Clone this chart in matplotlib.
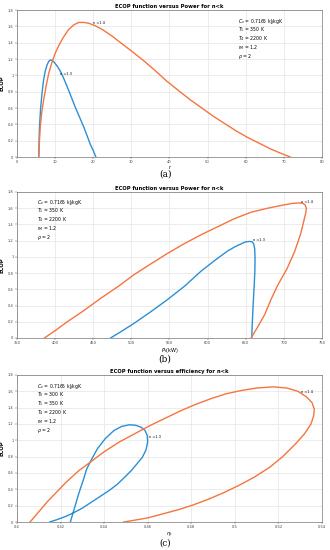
import numpy as np
import matplotlib.pyplot as plt

# (a) ECOP vs compression ratio r
r_13 = [5.7, 5.8, 5.9, 6.2, 6.6, 7.0, 7.4, 7.9, 8.3, 8.7, 9.2, 9.8, 10.6, 11.4, 12.2, 13.1, 14.2, 15.3, 16.4, 17.5, 18.4, 19.2, 20.0, 20.7]
e_13 = [0.0, 0.2, 0.37, 0.6, 0.8, 0.95, 1.05, 1.13, 1.17, 1.19, 1.185, 1.16, 1.11, 1.05, 0.97, 0.87, 0.74, 0.61, 0.49, 0.37, 0.26, 0.16, 0.08, 0.0]
r_14 = [5.7, 5.9, 6.1, 6.5, 7.0, 7.6, 8.3, 9.1, 10.0, 11.0, 12.2, 13.5, 14.9, 16.2, 17.5, 18.8, 20.5, 22.5, 25.0, 27.5, 30.0, 33.0, 36.0, 39.3, 42.5, 45.5, 48.5, 51.5, 54.5, 57.5, 60.5, 63.5, 66.5, 69.0, 71.7]
e_14 = [0.0, 0.2, 0.37, 0.55, 0.7, 0.86, 1.02, 1.15, 1.27, 1.37, 1.47, 1.56, 1.62, 1.65, 1.65, 1.64, 1.61, 1.56, 1.48, 1.39, 1.3, 1.19, 1.07, 0.93, 0.81, 0.7, 0.6, 0.5, 0.41, 0.32, 0.24, 0.17, 0.1, 0.05, 0.0]

# (b) ECOP vs power
p_13 = [472.8, 485, 503.5, 525, 547, 570, 591, 610, 626, 637, 644, 650, 655, 658.5, 660.5, 661.8, 662.3, 662, 661.2, 660, 659, 658.3, 658]
pe_13 = [0.0, 0.07, 0.18, 0.32, 0.47, 0.64, 0.82, 0.96, 1.07, 1.13, 1.16, 1.185, 1.19, 1.185, 1.16, 1.1, 0.98, 0.82, 0.65, 0.45, 0.25, 0.1, 0.0]
p_14 = [386, 400, 416, 438, 460, 482, 503.5, 525, 547, 569, 591, 613, 635, 657, 679, 700, 712, 720, 725, 728, 729.5, 729, 727, 722, 714, 704, 692, 683, 675, 666, 657]
pe_14 = [0.0, 0.09, 0.2, 0.34, 0.49, 0.63, 0.78, 0.91, 1.04, 1.16, 1.27, 1.37, 1.47, 1.55, 1.6, 1.64, 1.66, 1.665, 1.66, 1.64, 1.6, 1.55, 1.47, 1.28, 1.06, 0.85, 0.65, 0.47, 0.29, 0.14, 0.0]

# (c) ECOP vs efficiency
eta_13 = [0.4245, 0.4265, 0.4285, 0.4305, 0.432, 0.4345, 0.437, 0.4405, 0.4445, 0.448, 0.4515, 0.4545, 0.457, 0.4588, 0.4598, 0.46, 0.4592, 0.4575, 0.455, 0.4525, 0.4495, 0.446, 0.442, 0.438, 0.434, 0.43, 0.4265, 0.4225, 0.4185, 0.415]
ee_13 = [0.0, 0.18, 0.36, 0.52, 0.65, 0.78, 0.9, 1.02, 1.12, 1.17, 1.19, 1.185, 1.16, 1.12, 1.06, 0.98, 0.88, 0.79, 0.71, 0.63, 0.55, 0.46, 0.38, 0.31, 0.24, 0.17, 0.12, 0.07, 0.03, 0.0]
eta_14 = [0.406, 0.414, 0.4223, 0.428, 0.434, 0.44, 0.447, 0.454, 0.461, 0.468, 0.475, 0.482, 0.489, 0.496, 0.503, 0.51, 0.5177, 0.524, 0.529, 0.533, 0.5355, 0.5365, 0.5362, 0.535, 0.532, 0.528, 0.522, 0.516, 0.509, 0.502, 0.495, 0.488, 0.481, 0.474, 0.467, 0.46, 0.4535, 0.449]
ee_14 = [0.0, 0.25, 0.48, 0.62, 0.74, 0.86, 0.98, 1.08, 1.18, 1.27, 1.36, 1.44, 1.51, 1.57, 1.61, 1.64, 1.655, 1.64, 1.6, 1.53, 1.46, 1.38, 1.3, 1.2, 1.08, 0.96, 0.8, 0.67, 0.55, 0.45, 0.36, 0.28, 0.21, 0.15, 0.1, 0.05, 0.02, 0.0]

blue = '#2b8fd6'
orange = '#f5743f'
params_ab = [r'$C_v$ = 0.7165 kJ/kgK', r'$T_1$ = 350 K', r'$T_4$ = 2200 K', r'$r_M$ = 1.2', r'$\rho$ = 2']
params_c = [r'$C_v$ = 0.7165 kJ/kgK', r'$T_0$ = 300 K', r'$T_1$ = 350 K', r'$T_4$ = 2200 K', r'$r_M$ = 1.2', r'$\rho$ = 2']

plt.rcParams['mathtext.fontset'] = 'dejavusans'
fig = plt.figure(figsize=(3.3, 5.5), dpi=100)

def setup(ax, title, xlabel, xlim, xticks, xticklabels):
    ax.set_xlim(*xlim)
    ax.set_ylim(0, 1.8)
    ax.set_xticks(xticks)
    ax.set_xticklabels(xticklabels)
    ax.set_yticks(np.arange(0, 1.81, 0.2))
    ax.set_yticklabels(['0', '0.2', '0.4', '0.6', '0.8', '1', '1.2', '1.4', '1.6', '1.8'])
    ax.grid(True, color='#e4e4e4', linewidth=0.5)
    ax.tick_params(labelsize=2.6, length=1.5, width=0.3, pad=1, colors='#444444')
    for s in ax.spines.values():
        s.set_linewidth(0.4)
        s.set_color('#555555')
    ax.set_title(title, fontsize=3.8, fontweight='bold', pad=1.5)
    ax.set_xlabel(xlabel, fontsize=3.6, labelpad=0.5)
    ax.set_ylabel('ECOP', fontsize=3.8, fontweight='bold', labelpad=2)

def params(ax, lines, x, y):
    for i, s in enumerate(lines):
        ax.text(x, y - i * 0.06, s, transform=ax.transAxes, fontsize=3.3, va='center')

# (a)
ax1 = fig.add_axes([0.0515, 0.7145, 0.924, 0.267])
ax1.plot(r_13, e_13, color=blue, lw=1.0)
ax1.plot(r_14, e_14, color=orange, lw=1.0)
setup(ax1, 'ECOP function versus Power for n<k', 'r', (0, 80), range(0, 81, 10),
      [str(v) for v in range(0, 81, 10)])
ax1.text(20.0, 1.63, 'n =1.4', fontsize=2.5)
ax1.text(11.4, 1.0, 'n =1.3', fontsize=2.5)
params(ax1, params_ab, 0.725, 0.925)
fig.text(0.5, 0.684, '(a)', fontsize=6.5, family='DejaVu Serif', ha='center', va='center')

# (b)
ax2 = fig.add_axes([0.0515, 0.3855, 0.924, 0.2655])
ax2.plot(p_13, pe_13, color=blue, lw=1.0)
ax2.plot(p_14, pe_14, color=orange, lw=1.0)
setup(ax2, 'ECOP function versus Power for n<k', r'$P_t$(kW)', (350, 750), range(350, 751, 50),
      [str(v) for v in range(350, 751, 50)])
ax2.text(722, 1.665, 'n =1.4', fontsize=2.5)
ax2.text(660, 1.19, 'n =1.3', fontsize=2.5)
params(ax2, params_ab, 0.066, 0.93)
fig.text(0.5, 0.347, '(b)', fontsize=6.5, family='DejaVu Serif', ha='center', va='center')

# (c)
ax3 = fig.add_axes([0.0515, 0.0509, 0.924, 0.2673])
ax3.plot(eta_13, ee_13, color=blue, lw=1.0)
ax3.plot(eta_14, ee_14, color=orange, lw=1.0)
xt = np.arange(0.40, 0.5401, 0.02)
setup(ax3, 'ECOP function versus efficiency for n<k', r'$\eta_t$', (0.4, 0.54), xt,
      ['0.4', '0.42', '0.44', '0.46', '0.48', '0.5', '0.52', '0.54'])
ax3.text(0.5305, 1.58, 'n =1.4', fontsize=2.5)
ax3.text(0.4605, 1.03, 'n =1.3', fontsize=2.5)
params(ax3, params_c, 0.066, 0.925)
fig.text(0.5, 0.012, '(c)', fontsize=6.2, family='DejaVu Serif', ha='center', va='center')

plt.savefig('out.png', dpi=100)
